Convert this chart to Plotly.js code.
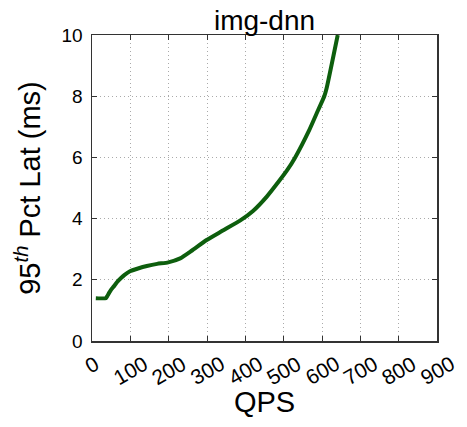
<!DOCTYPE html>
<html>
<head>
<meta charset="utf-8">
<script src="https://cdn.plot.ly/plotly-3.0.1.min.js"></script>
<style>html,body{margin:0;padding:0;background:#fff;}#chart{width:467px;height:427px;}</style>
</head>
<body>
<div id="chart"></div>
<script>
const qps = [10, 36, 40, 45, 50, 56, 65, 75, 85, 99, 120, 143, 170, 199, 230, 260, 299, 340, 388, 420, 456, 490, 510, 530, 567, 590, 606, 612, 641];
const lat = [1.4, 1.4, 1.47, 1.58, 1.68, 1.77, 1.92, 2.05, 2.16, 2.28, 2.37, 2.45, 2.52, 2.57, 2.7, 2.95, 3.3, 3.6, 3.95, 4.25, 4.72, 5.26, 5.6, 6.0, 6.9, 7.55, 8.0, 8.26, 10.0];
const xTicks = [0, 100, 200, 300, 400, 500, 600, 700, 800, 900];
const xTickLabels = ["0", "100", "200", "300", "400", "500", "600", "700", "800", "900"];
const yTicks = [0, 2, 4, 6, 8, 10];
const yTickLabels = ["0", "2", "4", "6", "8", "10"];

const font = "Liberation Sans, Arial, sans-serif";

const annotations = xTicks.map((v, i) => ({
  x: v, xref: "x", y: 0, yref: "paper",
  text: xTickLabels[i], showarrow: false,
  textangle: -30, xanchor: "center", yanchor: "top",
  yshift: -8,
  font: {family: font, size: 21, color: "#000"}
}));

const data = [{
  x: qps, y: lat, type: "scatter", mode: "lines",
  line: {color: "#0d5e0d", width: 4, shape: "spline", smoothing: 0.5},
  cliponaxis: true, showlegend: false
}];

const axisCommon = {
  showline: true, linecolor: "#333", linewidth: 1.5, mirror: "allticks",
  ticks: "inside", ticklen: 5, tickcolor: "#333", tickwidth: 1,
  showgrid: true, gridcolor: "#aaaaaa", griddash: "1px,3px", gridwidth: 1,
  zeroline: false,
  tickfont: {family: font, size: 19, color: "#000"}
};

const layout = {
  width: 467, height: 427,
  margin: {l: 92, r: 30, t: 35, b: 86},
  paper_bgcolor: "#fff", plot_bgcolor: "#fff",
  title: {text: "img-dnn", font: {family: font, size: 28, color: "#000"},
          x: 0.5, xref: "paper", xanchor: "center", y: 1 - 20/427, yref: "container", yanchor: "middle"},
  xaxis: Object.assign({}, axisCommon, {
    range: [0, 900], tickvals: xTicks, showticklabels: false,
    title: {text: "QPS", font: {family: font, size: 29, color: "#000"}, standoff: 50}
  }),
  yaxis: Object.assign({}, axisCommon, {
    range: [0, 10], tickvals: yTicks, ticktext: yTickLabels,
    ticklabelstandoff: 4,
    title: {text: "95<sup><i>th</i></sup> Pct Lat (ms)", font: {family: font, size: 29, color: "#000"}, standoff: 12}
  }),
  annotations: annotations
};

Plotly.newPlot("chart", data, layout, {displayModeBar: false, staticPlot: true});
</script>
</body>
</html>
